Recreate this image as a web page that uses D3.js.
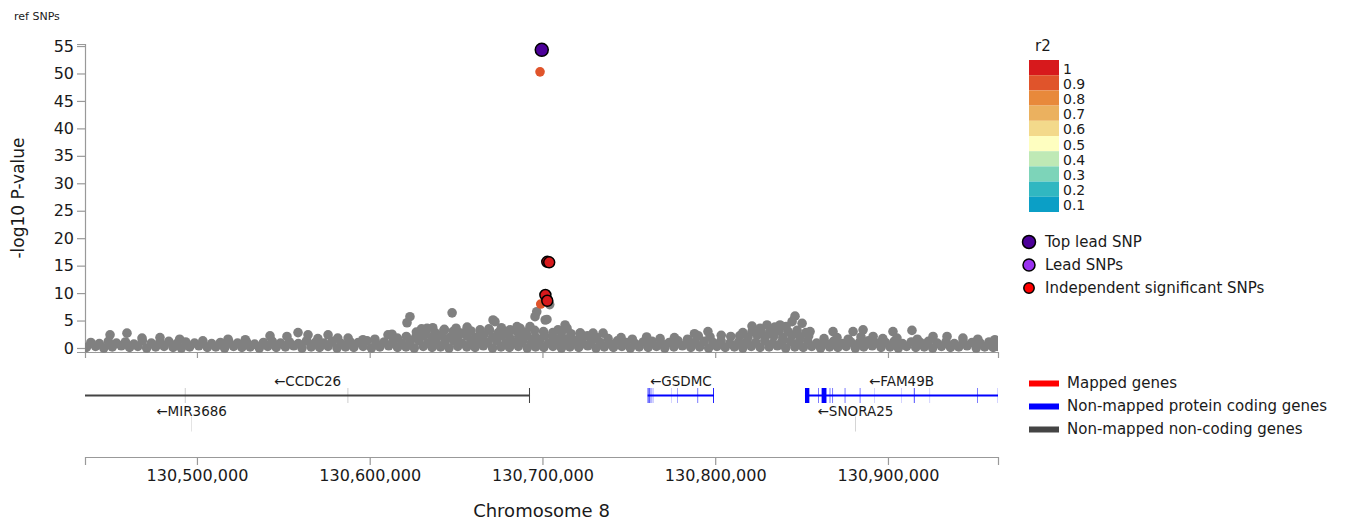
<!DOCTYPE html>
<html>
<head>
<meta charset="utf-8">
<script src="https://cdn.jsdelivr.net/npm/d3@7"></script>
<style>
  html, body { margin: 0; padding: 0; background: #fff; }
  svg { display: block; font-family: "DejaVu Sans", sans-serif; }
</style>
</head>
<body>
<svg id="chart" width="1346" height="521"></svg>
<script>
// ---- data -------------------------------------------------------------
// Region on chromosome 8 (kb)
const regionKb = [130435.2, 130963.7];
const xTickBp = [130500000, 130600000, 130700000, 130800000, 130900000];
const yTickVals = [0, 5, 10, 15, 20, 25, 30, 35, 40, 45, 50, 55];

// r2 colour bins (top = 1)
const r2Labels = ["1", "0.9", "0.8", "0.7", "0.6", "0.5", "0.4", "0.3", "0.2", "0.1"];
const r2Colors = ["#d7191c", "#e0542b", "#e8893b", "#ebb15f", "#f3d98b",
                  "#fefec0", "#bfe9b5", "#7dd4b9", "#31b7c1", "#0b9fc6"];

// SNPs without LD information: [position kb, -log10 P]
const greySnps = [
  // lower row
  [130436.0,0.1],[130441.3,0.3],[130446.1,0.0],[130451.0,0.2],[130456.2,0.4],[130461.0,0.1],[130465.8,0.3],
  [130470.9,0.0],[130476.1,0.2],[130481.0,0.3],[130486.2,0.1],[130491.0,0.0],[130495.8,0.2],[130501.1,0.4],
  [130506.0,0.1],[130510.9,0.2],[130516.0,0.0],[130521.2,0.3],[130526.0,0.1],[130530.8,0.2],[130536.1,0.0],
  [130541.0,0.3],[130545.9,0.1],[130551.2,0.2],[130556.0,0.4],[130560.8,0.0],[130566.1,0.2],[130571.0,0.1],
  [130575.9,0.3],[130581.1,0.0],[130586.0,0.2],[130590.8,0.1],[130596.2,0.3],[130601.0,0.0],[130605.9,0.2],
  [130611.0,0.4],[130616.1,0.1],[130621.0,0.2],[130625.8,0.0],[130631.0,0.3],[130636.1,0.1],[130641.0,0.2],
  [130645.9,0.0],[130651.0,0.3],[130656.2,0.2],[130661.0,0.1],[130665.8,0.4],[130671.1,0.0],[130676.0,0.2],
  [130680.9,0.1],[130686.0,0.3],[130691.2,0.0],[130696.0,0.2],[130700.8,0.1],[130706.1,0.3],[130711.0,0.0],
  [130715.9,0.2],[130721.0,0.1],[130726.2,0.4],[130731.0,0.0],[130735.8,0.2],[130741.1,0.1],[130746.0,0.3],
  [130750.9,0.0],[130756.0,0.2],[130761.2,0.1],[130766.0,0.3],[130770.8,0.0],[130776.1,0.2],[130781.0,0.4],
  [130785.9,0.1],[130791.0,0.2],[130796.2,0.0],[130801.0,0.3],[130805.8,0.1],[130811.1,0.2],[130816.0,0.0],
  [130820.9,0.3],[130826.0,0.1],[130831.2,0.2],[130836.0,0.4],[130840.8,0.0],[130846.1,0.2],[130851.0,0.1],
  [130855.9,0.3],[130861.0,0.0],[130866.2,0.2],[130871.0,0.1],[130875.8,0.3],[130881.1,0.0],[130886.0,0.2],
  [130890.9,0.4],[130896.0,0.1],[130901.2,0.2],[130906.0,0.0],[130910.8,0.3],[130916.1,0.1],[130921.0,0.2],
  [130925.9,0.0],[130931.0,0.3],[130936.2,0.1],[130941.0,0.2],[130945.8,0.4],[130951.1,0.0],[130956.0,0.2],
  [130960.9,0.1],[130963.2,0.3],
  // second row
  [130438.6,1.0],[130443.5,0.8],[130448.7,1.2],[130453.4,0.9],[130458.6,1.1],[130463.5,0.7],[130468.4,1.3],
  [130473.6,0.9],[130478.5,1.0],[130483.7,1.2],[130488.4,0.8],[130493.5,1.1],[130498.6,0.9],[130503.4,1.3],
  [130508.5,0.8],[130513.6,1.0],[130518.4,1.2],[130523.5,0.9],[130528.7,1.1],[130533.4,0.7],[130538.5,1.0],
  [130543.6,1.2],[130548.4,0.9],[130553.5,1.1],[130558.7,0.8],[130563.4,1.3],[130568.5,1.0],[130573.6,0.9],
  [130578.4,1.2],[130583.5,0.8],[130588.7,1.1],[130593.4,1.0],[130598.5,1.3],[130603.6,0.9],[130608.4,1.1],
  [130613.5,1.2],[130618.6,0.8],[130623.4,1.1],[130628.5,1.3],[130633.6,0.9],[130638.4,1.2],[130643.5,1.0],
  [130648.7,1.3],[130653.4,0.9],[130658.5,1.1],[130663.6,1.2],[130668.4,1.0],[130673.5,1.3],[130678.7,0.9],
  [130683.4,1.1],[130688.5,1.2],[130693.6,1.0],[130698.4,1.3],[130703.5,0.9],[130708.7,1.2],[130713.4,1.0],
  [130718.5,1.1],[130723.6,0.8],[130728.4,1.2],[130733.5,1.0],[130738.7,0.9],[130743.4,1.3],[130748.5,1.0],
  [130753.6,0.8],[130758.4,1.1],[130763.5,1.2],[130768.7,0.9],[130773.4,1.0],[130778.5,1.3],[130783.6,0.8],
  [130788.4,1.1],[130793.5,1.2],[130798.7,1.0],[130803.4,1.3],[130808.5,0.9],[130813.6,1.1],[130818.4,1.2],
  [130823.5,1.0],[130828.7,1.3],[130833.4,0.9],[130838.5,1.1],[130843.6,1.2],[130848.4,1.0],[130853.5,1.3],
  [130858.7,0.9],[130863.4,1.0],[130868.5,1.2],[130873.6,0.8],[130878.4,1.1],[130883.5,1.0],[130888.7,1.3],
  [130893.4,0.9],[130898.5,1.0],[130903.6,1.2],[130908.4,0.8],[130913.5,1.1],[130918.7,1.0],[130923.4,1.2],
  [130928.5,0.9],[130933.6,1.1],[130938.4,0.8],[130943.5,1.2],[130948.7,1.0],[130953.4,0.9],[130958.5,1.1],
  [130962.8,1.0],
  // third row, left flank
  [130449.7,2.4],[130459.5,2.7],[130468.2,1.8],[130478.6,1.9],[130490.0,1.6],[130518.0,1.6],[130528.0,1.5],
  [130542.3,2.2],[130552.1,2.1],[130558.5,2.8],[130564.3,2.4],[130570.0,1.7],[130575.9,2.4],[130581.5,1.8],
  [130587.5,1.8],[130596.1,1.5],[130603.0,1.6],[130610.6,2.4],[130612.9,2.5],
  // third row, centre
  [130616.0,1.8],[130621.2,2.1],[130626.5,1.9],[130631.3,2.2],[130636.0,2.0],[130641.4,2.3],[130646.2,1.9],
  [130651.0,2.1],[130656.3,2.2],[130661.1,1.9],[130666.0,2.3],[130671.2,2.0],[130676.4,2.2],[130681.0,1.9],
  [130686.3,2.1],[130691.1,2.3],[130696.0,2.0],[130701.3,2.2],[130706.1,1.9],[130711.0,2.1],[130716.2,2.0],
  [130721.4,1.8],[130726.0,2.2],[130731.3,1.9],
  [130738.0,1.7],[130745.5,1.9],[130752.0,1.6],[130760.3,2.0],[130768.1,1.7],[130776.4,1.9],[130784.0,1.6],
  [130790.2,2.2],[130797.0,2.0],[130803.5,2.3],[130809.0,2.1],
  [130814.2,2.2],[130819.0,2.0],[130824.3,2.3],[130829.1,2.1],[130834.0,2.2],[130839.2,1.9],[130844.4,2.3],
  [130849.0,2.0],[130854.1,2.2],
  // third row, right flank
  [130863.0,1.7],[130870.5,1.9],[130877.0,1.6],[130884.4,2.0],[130891.4,2.1],[130897.0,1.7],[130905.2,1.8],
  [130917.0,1.6],[130926.1,2.1],[130934.2,2.1],[130943.4,1.8],[130952.0,1.6],[130961.9,1.5],
  // fourth row
  [130627.0,2.9],[130632.5,3.1],[130637.8,2.8],[130643.0,3.2],[130648.2,3.0],[130653.5,2.7],[130658.6,3.1],
  [130664.0,2.9],[130669.3,3.2],[130674.5,2.8],[130679.6,3.0],[130685.0,3.1],[130690.2,2.9],[130695.5,3.2],
  [130700.6,3.0],[130706.0,2.8],[130711.4,3.1],[130716.5,2.6],[130722.0,2.7],[130729.3,2.7],[130735.1,2.7],
  [130816.0,2.8],[130821.3,3.0],[130826.5,3.2],[130831.6,2.9],[130837.0,3.1],[130842.2,3.0],[130847.4,3.2],
  [130852.5,2.8],[130795.8,3.0],[130788.0,2.6],[130868.2,3.0],[130879.8,3.0],[130885.6,3.3],[130902.9,3.0],
  [130913.9,3.2],
  // upper points
  [130630.0,3.5],[130636.5,3.7],[130643.2,3.4],[130650.0,3.6],[130656.4,3.8],[130663.9,3.3],[130669.0,3.5],
  [130676.2,3.7],[130681.2,3.3],[130687.0,3.6],[130692.8,3.9],
  [130821.3,4.0],[130826.0,3.6],[130830.0,4.2],[130834.5,3.8],[130837.5,4.2],[130841.0,3.9],[130844.5,4.8],
  [130846.2,5.8],[130850.3,4.5],[130854.9,3.0],
  [130621.6,4.6],[130623.3,5.7],[130633.2,3.6],[130647.7,6.4],[130671.4,5.1],[130672.5,4.8],[130685.3,3.9],
  [130695.7,5.7],[130696.7,6.6],[130701.6,5.1],[130702.6,5.2],[130704.2,7.9],[130709.0,3.3],[130713.1,4.2],
  [130714.2,3.6],[130721.7,2.7]
];

// SNPs in LD with the top lead SNP: [position kb, -log10 P, r2 bin index]
const ldSnps = [[130698.6, 50.3, 1], [130699.0, 8.0, 1]];
// Independent significant SNPs: [position kb, -log10 P]
const indSigSnps = [[130702.8, 15.7], [130703.9, 15.6], [130701.7, 9.65], [130702.8, 8.6]];
// Top lead SNP
const topLead = [[130699.6, 54.3]];

// Genes (kb); row 0 = upper track, row 1 = lower track
const genes = [
  { name: "CCDC26",  start: 130363.9, end: 130692.8, type: "noncoding", row: 0 },
  { name: "MIR3686", start: 130496.86, end: 130496.94, type: "noncoding", row: 1 },
  { name: "GSDMC",   start: 130760.9, end: 130799.3, type: "coding", row: 0 },
  { name: "FAM49B",  start: 130851.97, end: 130990.0, type: "coding", row: 0 },
  { name: "SNORA25", start: 130881.14, end: 130881.27, type: "noncoding", row: 1 }
];
// Exons: [gene, start kb, end kb]
const exons = [
  ["CCDC26", 130493.05, 130493.2], ["CCDC26", 130587.35, 130587.5], ["CCDC26", 130692.2, 130692.8],
  ["MIR3686", 130496.86, 130496.94],
  ["GSDMC", 130760.9, 130761.4], ["GSDMC", 130761.9, 130762.3], ["GSDMC", 130762.7, 130763.0],
  ["GSDMC", 130763.9, 130764.1], ["GSDMC", 130774.75, 130774.85], ["GSDMC", 130778.2, 130778.4],
  ["GSDMC", 130789.8, 130790.1], ["GSDMC", 130798.8, 130799.3],
  ["FAM49B", 130851.97, 130854.5], ["FAM49B", 130859.6, 130859.9], ["FAM49B", 130861.6, 130864.4],
  ["FAM49B", 130866.3, 130866.6], ["FAM49B", 130867.9, 130868.2], ["FAM49B", 130875.0, 130875.3],
  ["FAM49B", 130883.7, 130884.0], ["FAM49B", 130892.05, 130892.15], ["FAM49B", 130907.85, 130907.95],
  ["FAM49B", 130915.0, 130915.4], ["FAM49B", 130924.25, 130924.35], ["FAM49B", 130951.8, 130952.1],
  ["FAM49B", 130963.5, 130963.6],
  ["SNORA25", 130881.14, 130881.27]
];

const geneTypeColor = { mapped: "#ff0000", coding: "#0000ff", noncoding: "#444444" };
const geneLegend = [
  ["Mapped genes", "mapped"],
  ["Non-mapped protein coding genes", "coding"],
  ["Non-mapped non-coding genes", "noncoding"]
];
const snpLegend = [
  ["Top lead SNP", "#4c0099", 6.5],
  ["Lead SNPs", "#9a32f0", 6],
  ["Independent significant SNPs", "#ff0000", 5.2]
];

// ---- layout -----------------------------------------------------------
const svg = d3.select("#chart");
const textColor = "#1a1a1a";
const axisColor = "#999";
const left = 85, right = 998;

const x = d3.scaleLinear().domain(regionKb.map(d => d * 1000)).range([left, right]);
const y = d3.scaleLinear().domain([-0.73, 55.37]).range([352, 44]);

svg.append("rect").attr("width", 1346).attr("height", 521).attr("fill", "#fff");

svg.append("defs").append("clipPath").attr("id", "plotClip")
  .append("rect").attr("x", left).attr("y", 0).attr("width", right - left).attr("height", 521);

svg.append("text").attr("x", 14).attr("y", 20)
  .attr("font-size", 11).attr("fill", textColor).text("ref SNPs");

function styleAxis(g) {
  g.selectAll(".domain").attr("stroke", axisColor).attr("stroke-width", 1.2);
  g.selectAll(".tick line").attr("stroke", axisColor).attr("stroke-width", 1.2);
  g.selectAll(".tick text").attr("fill", textColor).attr("font-family", "DejaVu Sans");
}

// y axis
svg.append("g").attr("transform", `translate(${left},0)`)
  .call(d3.axisLeft(y).tickValues(yTickVals).tickSizeInner(8).tickSizeOuter(8).tickPadding(3))
  .call(styleAxis)
  .call(g => g.selectAll(".tick text").attr("font-size", 16));

svg.append("text")
  .attr("transform", `translate(24,${(44 + 352) / 2}) rotate(-90)`)
  .attr("text-anchor", "middle").attr("font-size", 17).attr("fill", textColor)
  .text("-log10 P-value");

// x axis under the scatter (ticks only)
svg.append("g").attr("transform", `translate(0,${y(-0.73)})`)
  .call(d3.axisBottom(x).tickValues(xTickBp).tickFormat("").tickSizeInner(6).tickSizeOuter(6))
  .call(styleAxis);

// ---- points -----------------------------------------------------------
const pts = svg.append("g").attr("clip-path", "url(#plotClip)");

pts.selectAll("circle.grey").data(greySnps).join("circle")
  .attr("class", "grey")
  .attr("cx", d => x(d[0] * 1000)).attr("cy", d => y(d[1]))
  .attr("r", 4.8).attr("fill", "#808080");

pts.selectAll("circle.ld").data(ldSnps).join("circle")
  .attr("class", "ld")
  .attr("cx", d => x(d[0] * 1000)).attr("cy", d => y(d[1]))
  .attr("r", 4.8).attr("fill", d => r2Colors[d[2]]);

pts.selectAll("circle.ind").data(indSigSnps).join("circle")
  .attr("class", "ind")
  .attr("cx", d => x(d[0] * 1000)).attr("cy", d => y(d[1]))
  .attr("r", 5.5).attr("fill", r2Colors[0]).attr("stroke", "#000").attr("stroke-width", 1.5);

pts.selectAll("circle.top").data(topLead).join("circle")
  .attr("class", "top")
  .attr("cx", d => x(d[0] * 1000)).attr("cy", d => y(d[1]))
  .attr("r", 6.5).attr("fill", "#4c0099").attr("stroke", "#000").attr("stroke-width", 1.5);

// ---- gene track -------------------------------------------------------
const rowY = [395.5, 424];
const labelOffset = [14, 12];
const geneG = svg.append("g").attr("clip-path", "url(#plotClip)");
const geneByName = Object.fromEntries(genes.map(g => [g.name, g]));

geneG.selectAll("line.gene").data(genes.filter(g => g.end - g.start > 1)).join("line")
  .attr("class", "gene")
  .attr("x1", g => x(g.start * 1000)).attr("x2", g => x(g.end * 1000))
  .attr("y1", g => rowY[g.row]).attr("y2", g => rowY[g.row])
  .attr("stroke", g => geneTypeColor[g.type]).attr("stroke-width", 2);

geneG.selectAll("rect.exon").data(exons).join("rect")
  .attr("class", "exon")
  .attr("x", e => x(e[1] * 1000))
  .attr("width", e => Math.max(0.15, x(e[2] * 1000) - x(e[1] * 1000)))
  .attr("y", e => rowY[geneByName[e[0]].row] - 7.5).attr("height", 15)
  .attr("fill", e => geneTypeColor[geneByName[e[0]].type]);

svg.selectAll("text.gene").data(genes).join("text")
  .attr("class", "gene")
  .attr("x", g => (x(Math.max(g.start * 1000, x.domain()[0])) + x(Math.min(g.end * 1000, x.domain()[1]))) / 2)
  .attr("y", g => rowY[g.row] - labelOffset[g.row])
  .attr("text-anchor", "middle").attr("dominant-baseline", "middle")
  .attr("font-size", 13.5).attr("fill", textColor)
  .text(g => "\u2190" + g.name);

// chromosome axis
svg.append("g").attr("transform", "translate(0,457)")
  .call(d3.axisBottom(x).tickValues(xTickBp).tickFormat(d3.format(","))
    .tickSizeInner(8).tickSizeOuter(8).tickPadding(5))
  .call(styleAxis)
  .call(g => g.selectAll(".tick text").attr("font-size", 16));

svg.append("text").attr("x", (left + right) / 2).attr("y", 517)
  .attr("text-anchor", "middle").attr("font-size", 18).attr("fill", textColor)
  .text("Chromosome 8");

// ---- legends ----------------------------------------------------------
const legX = 1029;
svg.append("text").attr("x", 1035).attr("y", 51)
  .attr("font-size", 15).attr("fill", textColor).text("r2");

const binH = 15.2;
const r2g = svg.append("g");
r2g.selectAll("rect").data(r2Colors).join("rect")
  .attr("x", legX).attr("y", (d, i) => 60 + i * binH)
  .attr("width", 30).attr("height", binH).attr("fill", d => d);
r2g.selectAll("text").data(r2Labels).join("text")
  .attr("x", 1063).attr("y", (d, i) => 60 + i * binH + binH / 2 + 2)
  .attr("dominant-baseline", "middle").attr("font-size", 14).attr("fill", textColor)
  .text(d => d);

const snpLeg = svg.append("g");
snpLeg.selectAll("circle").data(snpLegend).join("circle")
  .attr("cx", legX).attr("cy", (d, i) => 242 + i * 23)
  .attr("r", d => d[2]).attr("fill", d => d[1]).attr("stroke", "#000").attr("stroke-width", 1.5);
snpLeg.selectAll("text").data(snpLegend).join("text")
  .attr("x", 1045).attr("y", (d, i) => 242 + i * 23)
  .attr("dominant-baseline", "middle").attr("font-size", 15).attr("fill", textColor)
  .text(d => d[0]);

const geneLeg = svg.append("g");
geneLeg.selectAll("rect").data(geneLegend).join("rect")
  .attr("x", legX).attr("y", (d, i) => 380.5 + i * 23).attr("width", 30).attr("height", 6)
  .attr("fill", d => geneTypeColor[d[1]]);
geneLeg.selectAll("text").data(geneLegend).join("text")
  .attr("x", 1067).attr("y", (d, i) => 383.5 + i * 23)
  .attr("dominant-baseline", "middle").attr("font-size", 15).attr("fill", textColor)
  .text(d => d[0]);
</script>
</body>
</html>
